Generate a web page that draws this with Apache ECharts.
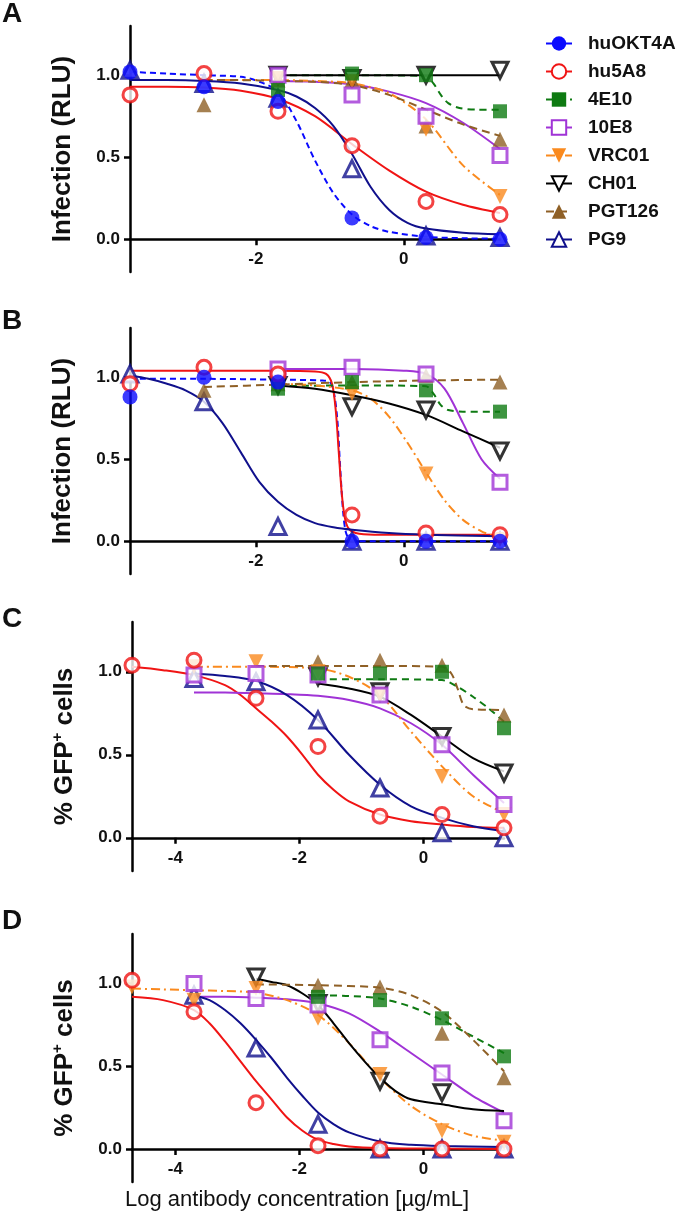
<!DOCTYPE html>
<html>
<head>
<meta charset="utf-8">
<script src="https://cdn.jsdelivr.net/npm/echarts@6/dist/echarts.min.js"></script>
<style>html,body{margin:0;background:#fff;}</style>
</head>
<body>
<div id="chart" style="width:680px;height:1215px;"></div>
<script type="text/javascript">

    // antibodies, in legend order
    var names = ['huOKT4A', 'hu5A8', '4E10', '10E8', 'VRC01', 'CH01', 'PGT126', 'PG9'];

    // log10 antibody concentration of the measured points
    var logAB = [-3.7, -2.7, -1.7, -0.7, 0.3, 1.3];
    var logCD = [-4.7, -3.7, -2.7, -1.7, -0.7, 0.3, 1.3];

    // tick labels
    var xTicksAB = [-2, 0];
    var xTicksCD = [-4, -2, 0];
    var yTicks = [0, 0.5, 1];

    // ---- panel A : measured points (one row per antibody, null = not measured)
    var ptsA = [
        [1.02, 0.93, 0.84, 0.13, 0.01, 0.0],     // huOKT4A
        [0.88, 1.01, 0.78, 0.57, 0.23, 0.15],    // hu5A8
        [null, null, 0.91, 1.01, 1.0, 0.78],     // 4E10
        [null, null, 1.0, 0.88, 0.75, 0.51],     // 10E8
        [null, null, 0.98, 0.96, 0.67, 0.26],    // VRC01
        [null, null, 1.0, 0.98, 1.0, 1.03],      // CH01
        [null, 0.82, 0.97, 0.97, 0.69, 0.61],    // PGT126
        [1.03, 0.95, 0.86, 0.43, 0.02, 0.01]     // PG9
    ];
    // panel A : fitted curves
    var fitA = [
        [[-3.7,1.02],[-3.2,1.01],[-2.7,1.0],[-2.2,0.99],[-1.95,0.96],[-1.7,0.9],[-1.45,0.72],[-1.2,0.48],[-0.95,0.28],[-0.7,0.15],[-0.45,0.08],[-0.2,0.045],[0.3,0.015],[0.8,0.006],[1.3,0.003]],
        [[-3.7,0.93],[-3.2,0.93],[-2.7,0.925],[-2.2,0.905],[-1.7,0.855],[-1.2,0.75],[-0.7,0.58],[-0.2,0.42],[0.3,0.29],[0.8,0.21],[1.3,0.16]],
        [[-1.7,1.0],[-0.7,1.0],[0.3,0.995],[0.4,0.95],[0.5,0.88],[0.6,0.83],[0.75,0.8],[1.0,0.79],[1.3,0.79]],
        [[-1.7,0.965],[-1.2,0.96],[-0.7,0.945],[-0.2,0.9],[0.3,0.83],[0.8,0.71],[1.3,0.55]],
        [[-2.7,0.97],[-2.2,0.97],[-1.7,0.97],[-1.2,0.965],[-0.7,0.95],[-0.2,0.89],[0.3,0.73],[0.8,0.45],[1.3,0.27]],
        [[-1.7,1.0],[1.3,1.0]],
        [[-2.7,0.97],[-2.2,0.97],[-1.7,0.965],[-1.2,0.96],[-0.7,0.94],[-0.2,0.88],[0.3,0.79],[0.8,0.7],[1.3,0.63]],
        [[-3.7,0.97],[-3.2,0.97],[-2.7,0.965],[-2.2,0.95],[-1.7,0.91],[-1.45,0.87],[-1.2,0.8],[-0.95,0.69],[-0.7,0.52],[-0.45,0.32],[-0.2,0.18],[0.05,0.1],[0.3,0.065],[0.8,0.04],[1.3,0.03]]
    ];

    // ---- panel B
    var ptsB = [
        [0.88, 1.0, 0.97, 0.0, 0.0, 0.0],
        [0.96, 1.06, 1.02, 0.16, 0.05, 0.04],
        [null, null, 0.93, 0.97, 0.92, 0.79],
        [null, null, 1.05, 1.06, 1.02, 0.36],
        [null, null, 0.96, 0.9, 0.41, 0.01],
        [null, null, 0.95, 0.82, 0.8, 0.55],
        [null, 0.92, 0.96, 0.97, 1.01, 0.97],
        [1.02, 0.85, 0.09, 0.0, 0.0, 0.0]
    ];
    var fitB = [
        [[-3.7,0.99],[-2.7,0.99],[-1.7,0.985],[-1.1,0.98],[-1.0,0.97],[-0.95,0.92],[-0.9,0.75],[-0.86,0.45],[-0.82,0.18],[-0.78,0.05],[-0.72,0.01],[-0.6,0.0],[1.3,0.0]],
        [[-3.7,1.04],[-2.7,1.04],[-1.7,1.04],[-1.2,1.035],[-1.05,1.02],[-0.97,0.96],[-0.92,0.8],[-0.88,0.55],[-0.84,0.3],[-0.8,0.15],[-0.75,0.08],[-0.65,0.05],[-0.4,0.04],[0.3,0.04],[1.3,0.04]],
        [[-1.7,0.945],[-0.7,0.95],[0.3,0.945],[0.4,0.9],[0.5,0.83],[0.6,0.8],[0.8,0.79],[1.3,0.79]],
        [[-1.7,1.05],[-0.7,1.05],[0.0,1.04],[0.3,1.02],[0.55,0.93],[0.8,0.72],[1.05,0.5],[1.3,0.38]],
        [[-1.7,0.96],[-1.2,0.95],[-0.7,0.92],[-0.45,0.87],[-0.2,0.76],[0.05,0.6],[0.3,0.42],[0.55,0.25],[0.8,0.13],[1.05,0.06],[1.3,0.02]],
        [[-1.7,0.95],[-1.2,0.93],[-0.7,0.89],[-0.2,0.84],[0.3,0.77],[0.8,0.67],[1.3,0.57]],
        [[-2.7,0.94],[-1.7,0.955],[-0.7,0.97],[0.3,0.98],[1.3,0.985]],
        [[-3.7,1.01],[-3.45,0.99],[-3.2,0.96],[-2.95,0.92],[-2.7,0.85],[-2.45,0.72],[-2.2,0.54],[-1.95,0.36],[-1.7,0.24],[-1.45,0.16],[-1.2,0.11],[-0.95,0.085],[-0.7,0.07],[-0.2,0.05],[0.3,0.04],[1.3,0.03]]
    ];

    // ---- panel C (no huOKT4A)
    var ptsC = [
        [],
        [1.04, 1.07, 0.84, 0.55, 0.13, 0.14, 0.06],
        [null, null, null, 0.99, 0.99, 1.0, 0.66],
        [null, 0.98, 0.99, 0.98, 0.86, 0.56, 0.2],
        [null, 1.03, 1.06, 1.0, 0.86, 0.37, 0.14],
        [null, null, null, 0.97, 0.88, 0.61, 0.39],
        [null, null, null, 1.06, 1.07, 1.04, 0.74],
        [null, 0.96, 0.94, 0.71, 0.3, 0.03, 0.0]
    ];
    var fitC = [
        [],
        [[-4.7,1.03],[-4.2,1.01],[-3.7,0.98],[-3.2,0.92],[-2.95,0.86],[-2.7,0.78],[-2.45,0.7],[-2.2,0.61],[-1.95,0.5],[-1.7,0.38],[-1.45,0.29],[-1.2,0.22],[-0.7,0.14],[-0.2,0.1],[0.3,0.08],[0.8,0.065],[1.3,0.06]],
        [[-1.7,0.955],[-0.7,0.955],[0.3,0.95],[0.55,0.91],[0.8,0.85],[1.05,0.78],[1.3,0.7]],
        [[-3.7,0.875],[-3.2,0.875],[-2.7,0.87],[-2.2,0.865],[-1.7,0.855],[-1.2,0.83],[-0.7,0.78],[-0.2,0.69],[0.3,0.56],[0.8,0.38],[1.3,0.21]],
        [[-3.7,1.03],[-2.7,1.03],[-1.7,1.02],[-1.2,0.97],[-0.7,0.86],[-0.2,0.64],[0.3,0.43],[0.8,0.25],[1.3,0.15]],
        [[-1.7,0.93],[-1.2,0.9],[-0.7,0.85],[-0.2,0.74],[0.3,0.61],[0.8,0.48],[1.3,0.4]],
        [[-2.7,1.035],[-1.7,1.035],[-0.7,1.035],[0.3,1.03],[0.45,0.99],[0.55,0.9],[0.65,0.8],[0.8,0.775],[1.3,0.77]],
        [[-3.7,0.99],[-3.2,0.975],[-2.7,0.945],[-2.2,0.86],[-1.7,0.71],[-1.2,0.5],[-0.7,0.32],[-0.2,0.19],[0.3,0.12],[0.8,0.07],[1.3,0.04]]
    ];

    // ---- panel D (no huOKT4A)
    var ptsD = [
        [],
        [1.02, 0.83, 0.28, 0.02, 0.0, 0.0, 0.0],
        [null, null, null, 0.92, 0.9, 0.79, 0.56],
        [null, 1.0, 0.91, 0.87, 0.66, 0.46, 0.17],
        [0.98, 0.9, 0.97, 0.79, 0.45, 0.11, 0.04],
        [null, null, 1.04, 0.88, 0.41, 0.34, null],
        [null, null, null, 0.99, 0.98, 0.7, 0.43],
        [null, 0.93, 0.61, 0.15, 0.0, 0.0, 0.0]
    ];
    var fitD = [
        [],
        [[-4.7,0.92],[-4.2,0.9],[-3.7,0.84],[-3.45,0.76],[-3.2,0.65],[-2.95,0.53],[-2.7,0.41],[-2.45,0.3],[-2.2,0.19],[-1.95,0.11],[-1.7,0.055],[-1.45,0.03],[-1.2,0.015],[-0.7,0.006],[0.3,0.002],[1.3,0.0]],
        [[-1.7,0.93],[-1.2,0.925],[-0.7,0.91],[-0.2,0.86],[0.3,0.78],[0.8,0.68],[1.3,0.58]],
        [[-3.7,0.92],[-3.2,0.92],[-2.7,0.915],[-2.2,0.905],[-1.7,0.88],[-1.2,0.82],[-0.7,0.71],[-0.2,0.58],[0.3,0.45],[0.8,0.32],[1.3,0.22]],
        [[-4.7,0.97],[-4.2,0.965],[-3.7,0.96],[-3.2,0.955],[-2.7,0.945],[-2.2,0.9],[-1.7,0.81],[-1.2,0.64],[-0.7,0.43],[-0.2,0.26],[0.3,0.15],[0.8,0.08],[1.3,0.05]],
        [[-2.7,1.03],[-2.45,1.01],[-2.2,0.99],[-1.95,0.94],[-1.7,0.87],[-1.45,0.76],[-1.2,0.64],[-0.95,0.53],[-0.7,0.43],[-0.45,0.35],[-0.2,0.3],[0.3,0.27],[0.8,0.24],[1.3,0.23]],
        [[-2.7,0.995],[-1.7,0.99],[-0.7,0.975],[-0.2,0.93],[0.3,0.83],[0.8,0.66],[1.3,0.47]],
        [[-3.7,0.93],[-3.45,0.9],[-3.2,0.84],[-2.95,0.76],[-2.7,0.66],[-2.45,0.55],[-2.2,0.43],[-1.95,0.32],[-1.7,0.22],[-1.45,0.15],[-1.2,0.1],[-0.7,0.045],[-0.2,0.025],[0.3,0.018],[1.3,0.012]]
    ];

    // look of each antibody
    var FONT = '"Liberation Sans", Arial, Helvetica, sans-serif';
    var colors  = ['#0a0aff', '#f01414', '#0e7a12', '#a033d6', '#fa8a1e', '#000000', '#8f6026', '#10108c'];
    var symbols = ['circle', 'circle', 'rect', 'rect', 'triangle', 'triangle', 'triangle', 'triangle'];
    var rotates = [0, 0, 0, 0, 180, 180, 0, 0];
    var filled  = [true, false, true, false, true, false, true, false];
    var sizes   = [15, 14, 14, 14, 15, 16, 15, 16];
    var dashes  = [[6, 4], 'solid', [7, 5], 'solid', [9, 4, 2, 4], 'solid', [8, 5], 'solid'];

    var panels = [
        {pts: ptsA, fit: fitA, cols: logAB, min: -3.7, ticks: xTicksAB, yName: 'Infection (RLU)', left: 130, top: 26, width: 370, height: 246, letter: 'A', letterTop: 0},
        {pts: ptsB, fit: fitB, cols: logAB, min: -3.7, ticks: xTicksAB, yName: 'Infection (RLU)', left: 130, top: 328, width: 370, height: 246, letter: 'B', letterTop: 307},
        {pts: ptsC, fit: fitC, cols: logCD, min: -4.7, ticks: xTicksCD, yName: '% GFP{sup|+} cells', left: 132, top: 622, width: 372, height: 249, letter: 'C', letterTop: 605},
        {pts: ptsD, fit: fitD, cols: logCD, min: -4.7, ticks: xTicksCD, yName: '% GFP{sup|+} cells', left: 132, top: 934, width: 372, height: 248, letter: 'D', letterTop: 907}
    ];

    function itemStyleOf(k) {
        if (filled[k]) {
            return {color: colors[k], borderWidth: 0};
        }
        return {color: '#ffffff', borderColor: colors[k], borderWidth: 3};
    }

    var grids = [], xAxes = [], yAxes = [], series = [], graphics = [];

    panels.forEach(function (p, i) {
        grids.push({left: p.left, top: p.top, width: p.width, height: p.height});
        // the x axis sits on y = 0, but its labels are laid out from the grid bottom,
        // so pull them back up with a negative margin
        xAxes.push({
            type: 'value', gridIndex: i, min: p.min, max: 1.3,
            splitLine: {show: false},
            axisLine: {show: true, onZero: true, lineStyle: {color: '#000', width: 2.5}},
            axisTick: {show: true, customValues: p.ticks, length: 6, lineStyle: {color: '#000', width: 2.5}},
            axisLabel: {customValues: p.ticks, margin: -21, fontSize: 17, fontWeight: 'bold', color: '#111', fontFamily: FONT,
                formatter: function (v) { return String(v); }}
        });
        yAxes.push({
            type: 'value', gridIndex: i, min: -0.2, max: 1.3,
            splitLine: {show: false},
            axisLine: {show: true, onZero: false, lineStyle: {color: '#000', width: 2.5}},
            axisTick: {show: true, customValues: yTicks, length: 6, lineStyle: {color: '#000', width: 2.5}},
            axisLabel: {customValues: yTicks, margin: 10, fontSize: 17, fontWeight: 'bold', color: '#111', fontFamily: FONT,
                formatter: function (v) { return v.toFixed(1); }},
            name: p.yName, nameLocation: 'middle', nameGap: 52,
            nameTextStyle: {fontSize: 26, fontWeight: 'bold', color: '#111', fontFamily: FONT, lineHeight: 30,
                rich: {sup: {fontSize: 15, fontWeight: 'bold', color: '#111', fontFamily: FONT, verticalAlign: 'top', lineHeight: 14}}}
        });
        graphics.push({type: 'text', left: 2, top: p.letterTop,
            style: {text: p.letter, fontSize: 28, fontWeight: 'bold', fontFamily: FONT, fill: '#111'}});
    });

    // fitted curves first (panel A first so the legend takes its icons from them)
    panels.forEach(function (p, i) {
        names.forEach(function (name, k) {
            if (!p.fit[k].length) return;
            series.push({
                type: 'line', name: name, xAxisIndex: i, yAxisIndex: i,
                data: p.fit[k], smooth: 0.3,
                showSymbol: false, symbol: symbols[k], symbolRotate: rotates[k], symbolSize: sizes[k],
                itemStyle: itemStyleOf(k),
                lineStyle: {color: colors[k], width: 2, type: dashes[k]},
                z: 2, silent: true
            });
        });
    });

    // measured points on top, first antibody drawn last
    panels.forEach(function (p, i) {
        names.forEach(function (name, k) {
            var data = [];
            p.cols.forEach(function (x, c) {
                var v = p.pts[k][c];
                if (v !== null && v !== undefined) data.push([x, v]);
            });
            if (!data.length) return;
            series.push({
                type: 'scatter', name: name, xAxisIndex: i, yAxisIndex: i,
                data: data, symbol: symbols[k], symbolRotate: rotates[k], symbolSize: sizes[k],
                itemStyle: itemStyleOf(k), z: 10 + (names.length - k), silent: true
            });
        });
    });

    graphics.push({type: 'text', left: 125, top: 1189,
        style: {text: 'Log antibody concentration [\u00b5g/mL]', fontSize: 22, fontFamily: FONT, fill: '#111'}});

    var myChart = echarts.init(document.getElementById('chart'));
    myChart.setOption({
        animation: false,
        backgroundColor: '#fff',
        grid: grids,
        xAxis: xAxes,
        yAxis: yAxes,
        legend: {
            data: names, orient: 'vertical', left: 545, top: 34, padding: 0,
            itemWidth: 26, itemHeight: 18, itemGap: 9, selectedMode: false,
            lineStyle: {width: 2},
            textStyle: {fontSize: 19, fontWeight: 'bold', color: '#111', fontFamily: FONT, lineHeight: 18, padding: [0, 0, 0, 11]}
        },
        series: series,
        graphic: graphics
    });
</script>
</body>
</html>
